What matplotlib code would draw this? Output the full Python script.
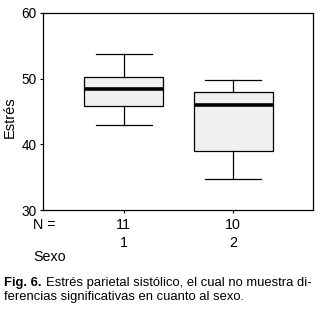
import matplotlib
matplotlib.use("Agg")
import matplotlib.pyplot as plt
import matplotlib.transforms as mtransforms

plt.rcParams['font.family'] = ['Liberation Sans', 'DejaVu Sans']

# data
groups = ["1", "2"]
counts = ["11", "10"]
whislo = [42.9, 34.7]
q1 = [45.8, 39.0]
med = [48.4, 45.95]
q3 = [50.3, 47.9]
whishi = [53.8, 49.75]
yticks = [30, 40, 50, 60]

stats = []
for i in range(len(groups)):
    stats.append(dict(whislo=whislo[i], q1=q1[i], med=med[i], q3=q3[i],
                      whishi=whishi[i], fliers=[], label=groups[i]))

fig = plt.figure(figsize=(3.23, 3.09), dpi=100)
ax = fig.add_axes([0.134, 0.320, 0.835, 0.638])

ax.bxp(stats, positions=[1, 2], widths=0.72, capwidths=0.51,
       patch_artist=True, showfliers=False, manage_ticks=False,
       boxprops=dict(facecolor='#f0f0f0', edgecolor='black', linewidth=0.9),
       whiskerprops=dict(color='black', linewidth=0.9),
       capprops=dict(color='black', linewidth=0.9),
       medianprops=dict(color='black', linewidth=2.6, solid_capstyle='butt'))

ax.set_xlim(0.267, 2.727)
ax.set_ylim(30, 60)
ax.set_yticks(yticks)
ax.set_xticks([1, 2])
ax.set_xticklabels([])
ax.tick_params(axis='both', length=2, width=0.8, labelsize=9.8, pad=3)
for s in ax.spines.values():
    s.set_linewidth(0.9)

fig.text(10 / 323, 1 - 117 / 309, "Estrés", rotation=90, ha='center', va='center', fontsize=10.5)

tr = mtransforms.blended_transform_factory(ax.transData, fig.transFigure)
fig.text(33 / 323, 1 - 225 / 309, "N =", ha='left', va='center', fontsize=10.3)
for i, g in enumerate(groups):
    ax.text(i + 1, 1 - 225 / 309, counts[i], transform=tr, ha='center', va='center', fontsize=10.3)
    ax.text(i + 1, 1 - 243 / 309, g, transform=tr, ha='center', va='center', fontsize=10.3)
fig.text(33 / 323, 1 - 257 / 309, "Sexo", ha='left', va='center', fontsize=10.3)

fig.text(4 / 323, 1 - 283 / 309, "Fig. 6.", fontweight='bold', ha='left', va='center', fontsize=9.4)
fig.text(46 / 323, 1 - 283 / 309, "Estrés parietal sistólico, el cual no muestra di-",
         ha='left', va='center', fontsize=9.4)
fig.text(4 / 323, 1 - 297 / 309, "ferencias significativas en cuanto al sexo.",
         ha='left', va='center', fontsize=9.4)

fig.savefig("out.png", dpi=100)
